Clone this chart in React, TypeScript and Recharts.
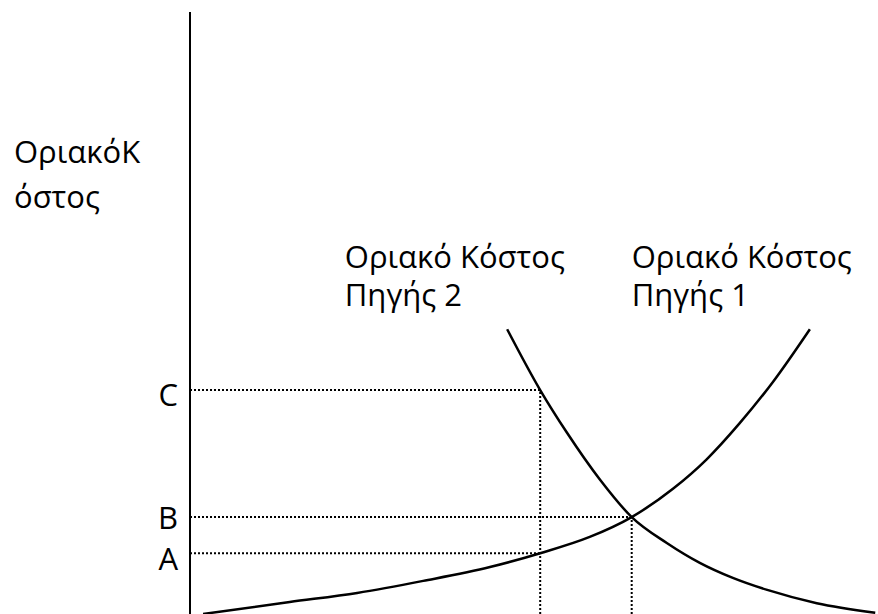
import React from "react";
import { LineChart, Line, XAxis, YAxis, ReferenceLine, ReferenceDot } from "recharts";

// Quantity (x) and marginal cost (y) readings, in arbitrary units 0–100
const source1Q = [1.9, 14.5, 24.3, 33.9, 43.6, 50.9, 58.1, 64.2, 70.2, 75.1, 79.9, 84.7, 90.1];
const source1MC = [0, 2.0, 3.5, 5.5, 7.8, 10.1, 12.8, 16.1, 20.8, 25.7, 31.7, 38.5, 47.3];
const source2Q = [46.1, 50.9, 54.8, 59.6, 64.2, 69.3, 74.1, 78.9, 83.9, 91.1, 99.6];
const source2MC = [47.3, 37.2, 30.1, 22.3, 16.1, 11.8, 8.5, 6.0, 4.0, 1.8, 0.2];

const levelNames = ["A", "B", "C"];
const levelValues = [10.1, 16.1, 37.2];
const levelQ = [50.9, 64.2, 50.9];
const verticalQ = [50.9, 64.2];
const verticalTop = [37.2, 16.1];

const yTitle = ["ΟριακόΚ", "όστος"];
const label2 = ["Οριακό Κόστος", "Πηγής 2"];
const label1 = ["Οριακό Κόστος", "Πηγής 1"];
const labelPos = { q2: 22.5, q1: 64.2, mc: 57.5 };

const FONT = "'Open Sans', 'Noto Sans', sans-serif";
const FS = 31;
const tickDy = [17, 12, 16];

const s1 = source1Q.map((q, i) => ({ q, mc: source1MC[i] }));
const s2 = source2Q.map((q, i) => ({ q, mc: source2MC[i] }));

const TwoLine = (lines: string[], lh: number) => (p: any) => (
  <text x={p.cx} y={p.cy} fontFamily={FONT} fontSize={FS} fill="#000">
    {lines.map((l, i) => (
      <tspan key={i} x={p.cx} dy={i === 0 ? 0 : lh}>
        {l}
      </tspan>
    ))}
  </text>
);

const Tick = (p: any) => {
  const v = p.payload.value;
  const idx = levelValues.indexOf(v);
  return (
    <text x={p.x} y={p.y} dy={idx >= 0 ? tickDy[idx] : 12} textAnchor="end" fontFamily={FONT} fontSize={FS} fill="#000">
      {idx >= 0 ? levelNames[idx] : ""}
    </text>
  );
};

const YTitle = (p: any) => {
  const vb = p.viewBox;
  return (
    <text x={14} y={vb.y + 151} fontFamily={FONT} fontSize={FS} fill="#000">
      {yTitle.map((l, i) => (
        <tspan key={i} x={14} dy={i === 0 ? 0 : 45}>
          {l}
        </tspan>
      ))}
    </text>
  );
};

export default function App() {
  return (
    <div style={{ position: "absolute", left: 0, top: 0, background: "#fff" }}>
      <LineChart width={878} height={614} margin={{ top: 12, right: 0, bottom: 0, left: 130 }}>
        <XAxis type="number" dataKey="q" domain={[0, 100]} hide allowDataOverflow />
        <YAxis
          type="number"
          dataKey="mc"
          domain={[0, 100]}
          width={60}
          ticks={levelValues}
          tick={<Tick />}
          tickLine={false}
          tickSize={0}
          tickMargin={12}
          axisLine={{ stroke: "#000", strokeWidth: 2 }}
          label={{ content: <YTitle /> }}
          allowDataOverflow
        />
        {levelValues.map((v, i) => (
          <ReferenceLine
            key={"h" + i}
            segment={[{ x: 0, y: v }, { x: levelQ[i], y: v }]}
            stroke="#000"
            strokeWidth={2}
            strokeDasharray="2 2"
          />
        ))}
        {verticalQ.map((q, i) => (
          <ReferenceLine
            key={"v" + i}
            segment={[{ x: q, y: 0 }, { x: q, y: verticalTop[i] }]}
            stroke="#000"
            strokeWidth={2}
            strokeDasharray="2 2"
          />
        ))}
        <Line
          data={s1}
          dataKey="mc"
          type="monotone"
          stroke="#000"
          strokeWidth={2.5}
          dot={false}
          activeDot={false}
          isAnimationActive={false}
        />
        <Line
          data={s2}
          dataKey="mc"
          type="monotone"
          stroke="#000"
          strokeWidth={2.5}
          dot={false}
          activeDot={false}
          isAnimationActive={false}
        />
        <ReferenceDot x={labelPos.q2} y={labelPos.mc} r={0} shape={TwoLine(label2, 38)} />
        <ReferenceDot x={labelPos.q1} y={labelPos.mc} r={0} shape={TwoLine(label1, 38)} />
      </LineChart>
    </div>
  );
}
